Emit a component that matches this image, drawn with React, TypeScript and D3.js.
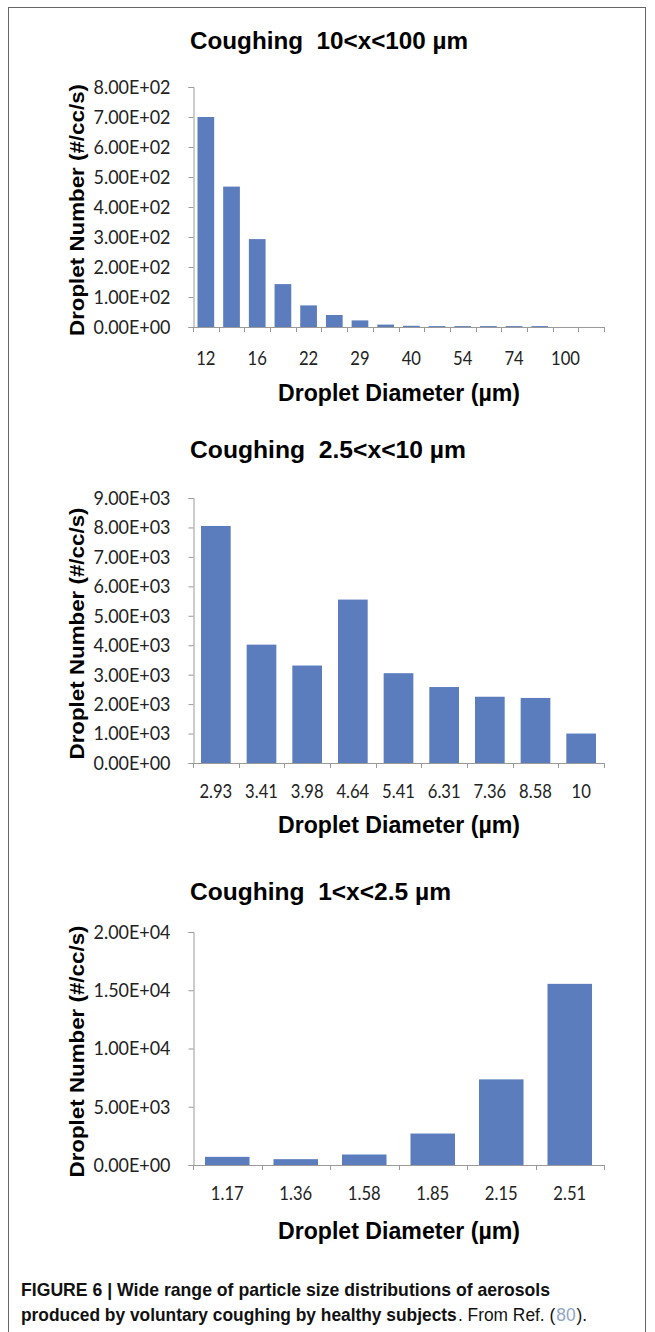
import React, { useEffect, useRef } from 'react';
import * as d3 from 'd3';

// top panel: 10 < x < 100 um
const topCategories = ['12', '14', '16', '19', '22', '25', '29', '34', '40', '46', '54', '63', '74', '86', '100', '116'];
const topValues = [700, 468, 293, 143, 72, 40, 22, 8, 4, 3, 3, 3, 3, 3, 0, 0];
const topTicks = [0, 100, 200, 300, 400, 500, 600, 700, 800];
const topShown = ['12', '16', '22', '29', '40', '54', '74', '100'];

// middle panel: 2.5 < x < 10 um
const midCategories = ['2.93', '3.41', '3.98', '4.64', '5.41', '6.31', '7.36', '8.58', '10'];
const midValues = [8050, 4020, 3310, 5550, 3050, 2580, 2250, 2210, 1000];
const midTicks = [0, 1000, 2000, 3000, 4000, 5000, 6000, 7000, 8000, 9000];

// bottom panel: 1 < x < 2.5 um
const lowCategories = ['1.17', '1.36', '1.58', '1.85', '2.15', '2.51'];
const lowValues = [700, 500, 900, 2700, 7350, 15550];
const lowTicks = [0, 5000, 10000, 15000, 20000];

// caption pieces: text, bold, colour
const captionLine1 = 'FIGURE 6 | Wide range of particle size distributions of aerosols';
const captionLine2: [string, boolean, string][] = [
  ['produced by voluntary coughing by healthy subjects', true, '#111'],
  ['. From Ref. (', false, '#111'],
  ['80', false, '#8fa6c4'],
  [').', false, '#111'],
];

const BAR = '#5b7cbd';
const AXIS = '#9a9a9a';
const LABEL_FONT = 'Lato, "Open Sans", sans-serif';
const BOLD_FONT = '"Liberation Sans", Arial, sans-serif';

// Excel style scientific label, e.g. 8.00E+02
const sci = (d: number) => {
  if (d === 0) return '0.00E+00';
  const e = Math.floor(Math.log10(d));
  const m = d / Math.pow(10, e);
  return `${m.toFixed(2)}E+${String(e).padStart(2, '0')}`;
};

// squeeze text to a given width (the originals use condensed faces)
const squeeze = (sel: d3.Selection<any, any, any, any>, width: (node: SVGTextElement) => number) => {
  sel.each(function () {
    const node = this as SVGTextElement;
    node.setAttribute('textLength', String(width(node)));
    node.setAttribute('lengthAdjust', 'spacingAndGlyphs');
  });
};

interface Panel {
  title: string;
  titleWidth: number;
  categories: string[];
  values: number[];
  ticks: number[];
  shown?: string[];
  titleY: number;
  top: number;
  bottom: number;
  labelY: number;
  xTitleY: number;
}

const panels: Panel[] = [
  { title: 'Coughing  10<x<100 µm', titleWidth: 278, categories: topCategories, values: topValues, ticks: topTicks, shown: topShown,
    titleY: 49, top: 87, bottom: 327, labelY: 365, xTitleY: 401 },
  { title: 'Coughing  2.5<x<10 µm', titleWidth: 276, categories: midCategories, values: midValues, ticks: midTicks,
    titleY: 458, top: 498, bottom: 763, labelY: 798, xTitleY: 833 },
  { title: 'Coughing  1<x<2.5 µm', titleWidth: 261, categories: lowCategories, values: lowValues, ticks: lowTicks,
    titleY: 900, top: 932, bottom: 1165, labelY: 1200, xTitleY: 1239 },
];

const App: React.FC = () => {
  const svgRef = useRef<SVGSVGElement>(null);

  useEffect(() => {
    if (!svgRef.current) return;
    const svg = d3.select(svgRef.current);
    svg.selectAll('*').remove();

    // outer frame
    svg.append('rect')
      .attr('x', 8.5).attr('y', 7.5)
      .attr('width', 637).attr('height', 1340)
      .attr('fill', 'none')
      .attr('stroke', '#666');

    const left = 193;
    const right = 604;

    panels.forEach(p => {
      const g = svg.append('g');

      const x = d3.scaleBand()
        .domain(p.categories)
        .range([left, right])
        .paddingInner(0.35)
        .paddingOuter(0.175);

      const y = d3.scaleLinear()
        .domain([0, p.ticks[p.ticks.length - 1]])
        .range([p.bottom, p.top]);

      // title
      const title = g.append('text')
        .attr('x', 190)
        .attr('y', p.titleY)
        .style('font-family', BOLD_FONT)
        .style('font-weight', 'bold')
        .style('font-size', '24px')
        .style('white-space', 'pre')
        .text(p.title);
      squeeze(title, () => p.titleWidth);

      // bars
      g.selectAll('.bar')
        .data(p.values)
        .enter().append('rect')
        .attr('x', (_d, i) => x(p.categories[i]) || 0)
        .attr('width', x.bandwidth())
        .attr('y', d => y(d))
        .attr('height', d => p.bottom - y(d))
        .style('fill', BAR);

      // y axis
      const yAxis = d3.axisLeft(y)
        .tickValues(p.ticks)
        .tickSize(5)
        .tickFormat(d => sci(d as number));
      const ya = g.append('g')
        .attr('transform', `translate(${left + 0.5}, 0)`)
        .call(yAxis);
      ya.select('.domain').attr('stroke', AXIS);
      ya.selectAll('line').attr('stroke', AXIS);
      const yl = ya.selectAll<SVGTextElement, unknown>('text')
        .attr('x', -23)
        .style('font-family', LABEL_FONT)
        .style('font-size', '20px')
        .style('fill', '#222');
      squeeze(yl, () => 77);

      // x axis line with ticks at band boundaries
      const step = x.step();
      const x0 = x.range()[0];
      const bounds = d3.range(p.categories.length + 1).map(i => x0 + i * step);
      g.append('line')
        .attr('x1', left).attr('x2', right)
        .attr('y1', p.bottom + 0.5).attr('y2', p.bottom + 0.5)
        .attr('stroke', AXIS);
      g.selectAll('.xtick')
        .data(bounds)
        .enter().append('line')
        .attr('x1', d => Math.round(d) + 0.5).attr('x2', d => Math.round(d) + 0.5)
        .attr('y1', p.bottom).attr('y2', p.bottom + 5)
        .attr('stroke', AXIS);

      // x tick labels
      const shown = p.shown || p.categories;
      const xl = g.selectAll<SVGTextElement, string>('.xlabel')
        .data(shown)
        .enter().append('text')
        .attr('x', d => (x(d) || 0) + x.bandwidth() / 2)
        .attr('y', p.labelY)
        .attr('text-anchor', 'middle')
        .style('font-family', LABEL_FONT)
        .style('font-size', '20px')
        .style('fill', '#222')
        .text(d => d);
      squeeze(xl, n => n.getComputedTextLength() * 0.83);

      // axis titles
      const xt = g.append('text')
        .attr('x', 399)
        .attr('y', p.xTitleY)
        .attr('text-anchor', 'middle')
        .style('font-family', BOLD_FONT)
        .style('font-weight', 'bold')
        .style('font-size', '24px')
        .text('Droplet Diameter (µm)');
      squeeze(xt, () => 242);

      const yt = g.append('text')
        .attr('transform', `translate(84, ${(p.top + p.bottom) / 2 + 3}) rotate(-90)`)
        .attr('text-anchor', 'middle')
        .style('font-family', BOLD_FONT)
        .style('font-weight', 'bold')
        .style('font-size', '21px')
        .text('Droplet Number (#/cc/s)');
      squeeze(yt, () => 252);
    });

    // caption
    const cap = svg.append('g')
      .style('font-family', BOLD_FONT)
      .style('font-size', '19px');
    const l1 = cap.append('text')
      .attr('x', 21).attr('y', 1296)
      .style('font-weight', 'bold')
      .style('fill', '#111')
      .text(captionLine1);
    squeeze(l1, () => 529);

    // second line: pieces laid out at natural width, then the group is squeezed
    const line2 = cap.append('g');
    let cx = 0;
    captionLine2.forEach(([t, bold, color]) => {
      const s = line2.append('text')
        .attr('x', cx)
        .attr('y', 0)
        .style('font-weight', bold ? 'bold' : 'normal')
        .style('fill', color)
        .style('white-space', 'pre')
        .text(t);
      cx += (s.node() as SVGTextElement).getComputedTextLength() + 1;
    });
    line2.attr('transform', `translate(21, 1321) scale(${567 / cx}, 1)`);
  }, []);

  return (
    <svg
      ref={svgRef}
      width={655}
      height={1332}
      style={{ position: 'absolute', left: 0, top: 0, background: '#fff' }}
    />
  );
};

export default App;
